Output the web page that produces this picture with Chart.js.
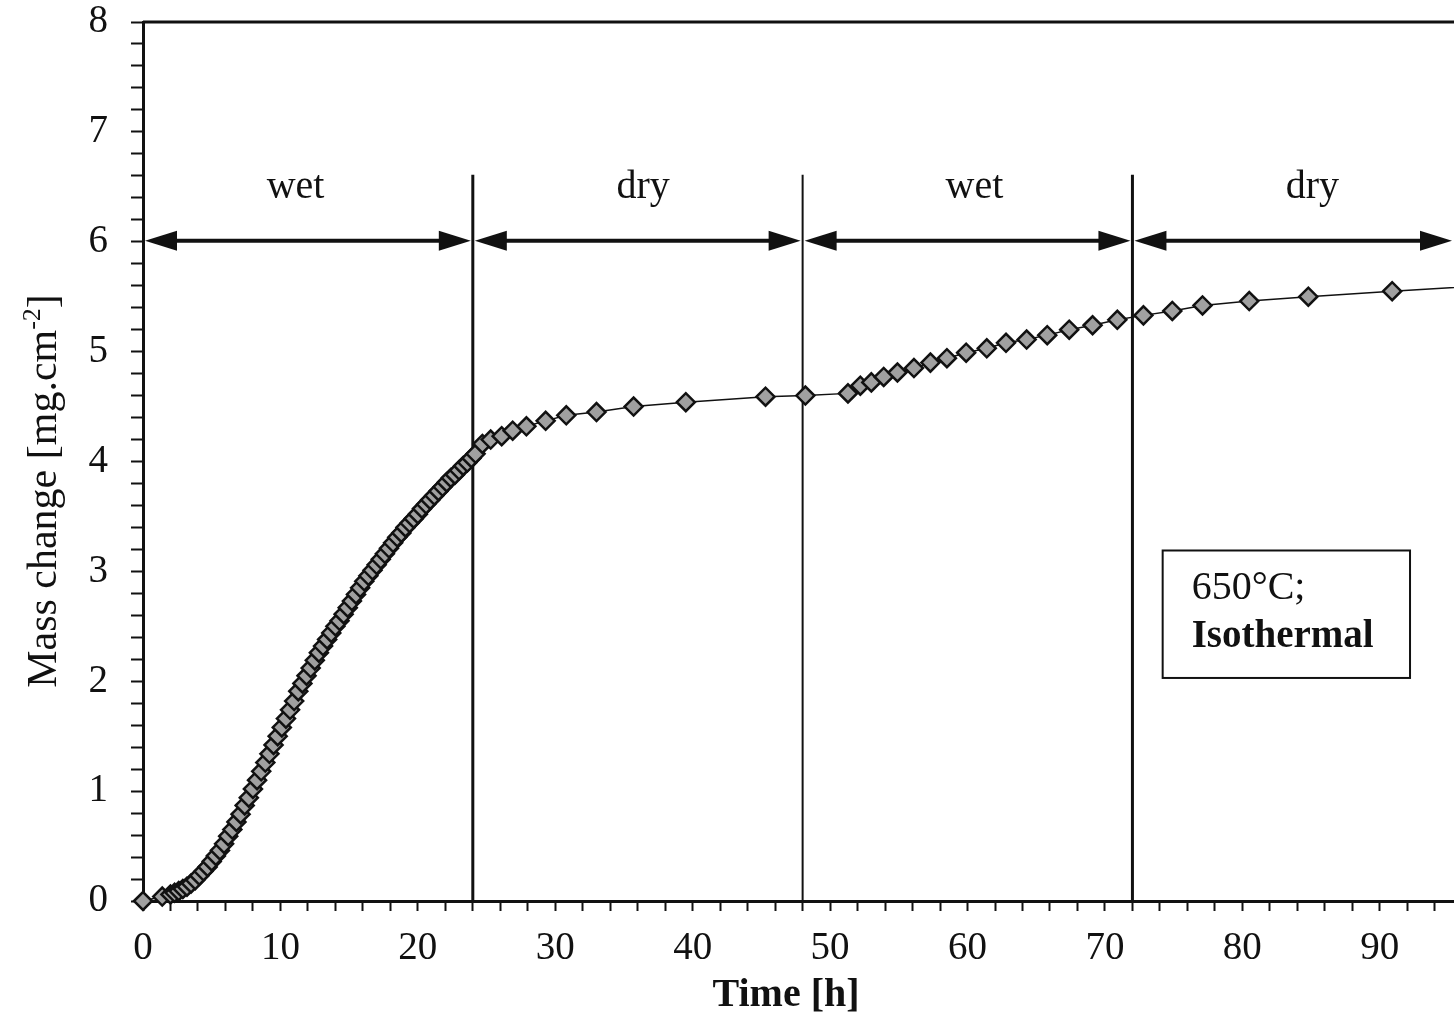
<!DOCTYPE html>
<html>
<head>
<meta charset="utf-8">
<script src="https://cdn.jsdelivr.net/npm/chart.js@4/dist/chart.umd.min.js"></script>
<style>
  html, body { margin: 0; padding: 0; background: #ffffff; }
  #wrap { width: 1454px; height: 1015px; position: relative; }
</style>
</head>
<body>
<div id="wrap"><canvas id="c" width="1454" height="1015"></canvas></div>
<script>
// ---- data ----
const timeH = [
  0, 1.4,
  2.0, 2.3, 2.6, 2.9, 3.2, 3.5, 3.8, 4.1, 4.4, 4.7, 5.0, 5.3, 5.6, 5.9, 6.2, 6.5, 6.8,
  7.1, 7.4, 7.7, 8.0, 8.3, 8.6, 8.9, 9.2, 9.5, 9.8, 10.1, 10.4, 10.7, 11.0, 11.3, 11.6,
  11.9, 12.2, 12.5, 12.8, 13.1, 13.4, 13.7, 14.0, 14.3, 14.6, 14.9, 15.2, 15.5, 15.8,
  16.1, 16.4, 16.7, 17.0, 17.3, 17.6, 17.9, 18.2, 18.5, 18.8, 19.1, 19.4, 19.7, 20.0,
  20.3, 20.6, 20.9, 21.2, 21.5, 21.8, 22.1, 22.4, 22.7, 23.0, 23.3, 23.6, 23.9, 24.2,
  24.7, 25.3, 26.1, 26.9, 27.9, 29.3, 30.8, 33.0, 35.7, 39.5, 45.3, 48.2,
  51.3, 52.2, 53.0, 53.9, 54.9, 56.1, 57.3, 58.5, 59.9, 61.4, 62.8, 64.3, 65.8, 67.4, 69.1, 70.9,
  72.8, 74.9, 77.1, 80.5, 84.8, 90.9, 97.5
];
const massMg = [
  0, 0.04,
  0.06, 0.075, 0.09, 0.11, 0.13, 0.16, 0.19, 0.23, 0.27, 0.31, 0.36, 0.41, 0.46, 0.52, 0.59, 0.65, 0.72,
  0.79, 0.87, 0.94, 1.02, 1.10, 1.18, 1.26, 1.34, 1.42, 1.50, 1.58, 1.66, 1.74, 1.82, 1.91, 1.98,
  2.05, 2.12, 2.19, 2.26, 2.32, 2.38, 2.44, 2.50, 2.55, 2.61, 2.67, 2.73, 2.79, 2.85,
  2.91, 2.96, 3.01, 3.06, 3.11, 3.16, 3.21, 3.26, 3.31, 3.35, 3.40, 3.44, 3.48, 3.52,
  3.57, 3.61, 3.65, 3.69, 3.73, 3.77, 3.81, 3.85, 3.88, 3.92, 3.96, 3.99, 4.03, 4.07,
  4.16, 4.20, 4.23, 4.28, 4.32, 4.37, 4.42, 4.45, 4.50, 4.54, 4.59, 4.60,
  4.62, 4.69, 4.72, 4.77, 4.81, 4.85, 4.90, 4.94, 4.99, 5.03, 5.08, 5.11, 5.15, 5.20, 5.24, 5.29,
  5.33, 5.37, 5.42, 5.46, 5.50, 5.55, 5.60
];
const phaseBounds = [0, 24, 48, 72];
const phaseNames = ['wet', 'dry', 'wet', 'dry'];
const phaseLabelX = [11.1, 36.4, 60.5, 85.1];
const xLabelTicks = [0, 10, 20, 30, 40, 50, 60, 70, 80, 90];
const yLabelTicks = [0, 1, 2, 3, 4, 5, 6, 7, 8];
const boxLines = ['650°C;', 'Isothermal'];

const X_MAX = 95.4;
const SERIF = "'Liberation Serif', 'DejaVu Serif', serif";

const points = timeH.map((t, i) => ({ x: t, y: massMg[i] }));

function isLabelTick(list, v) {
  return list.some(l => Math.abs(l - v) < 1e-6);
}

const annot = {
  id: 'annot',
  beforeDatasetsDraw(chart) {
    const { ctx, scales: { x, y }, chartArea } = chart;
    ctx.save();
    // top border
    ctx.strokeStyle = '#111';
    ctx.lineWidth = 3;
    ctx.beginPath();
    ctx.moveTo(chartArea.left, y.getPixelForValue(8));
    ctx.lineTo(chartArea.right, y.getPixelForValue(8));
    ctx.stroke();
    // phase boundary lines
    const widths = [3, 2, 3];
    phaseBounds.slice(1).forEach((b, i) => {
      const px = x.getPixelForValue(b);
      ctx.lineWidth = widths[i];
      ctx.beginPath();
      ctx.moveTo(px, y.getPixelForValue(6.61));
      ctx.lineTo(px, y.getPixelForValue(0));
      ctx.stroke();
    });
    // arrows
    const ay = y.getPixelForValue(6.01);
    const ends = phaseBounds.concat([X_MAX]);
    const headL = 32, headH = 10;
    ctx.fillStyle = '#111';
    for (let i = 0; i < phaseBounds.length; i++) {
      const x0 = x.getPixelForValue(ends[i]) + 2;
      const x1 = x.getPixelForValue(ends[i + 1]) - 2;
      ctx.lineWidth = 4;
      ctx.beginPath();
      ctx.moveTo(x0 + headL - 4, ay);
      ctx.lineTo(x1 - headL + 4, ay);
      ctx.stroke();
      ctx.beginPath();
      ctx.moveTo(x0, ay);
      ctx.lineTo(x0 + headL, ay - headH);
      ctx.lineTo(x0 + headL, ay + headH);
      ctx.closePath();
      ctx.fill();
      ctx.beginPath();
      ctx.moveTo(x1, ay);
      ctx.lineTo(x1 - headL, ay - headH);
      ctx.lineTo(x1 - headL, ay + headH);
      ctx.closePath();
      ctx.fill();
    }
    // phase labels
    ctx.font = '40px ' + SERIF;
    ctx.textAlign = 'center';
    ctx.textBaseline = 'alphabetic';
    phaseNames.forEach((n, i) => {
      ctx.fillText(n, x.getPixelForValue(phaseLabelX[i]), y.getPixelForValue(6.4));
    });
    // annotation box
    const bx0 = x.getPixelForValue(74.2), bx1 = x.getPixelForValue(92.2);
    const by0 = y.getPixelForValue(3.19), by1 = y.getPixelForValue(2.03);
    ctx.fillStyle = '#fff';
    ctx.fillRect(bx0, by0, bx1 - bx0, by1 - by0);
    ctx.strokeStyle = '#111';
    ctx.lineWidth = 2;
    ctx.strokeRect(bx0, by0, bx1 - bx0, by1 - by0);
    ctx.fillStyle = '#111';
    ctx.textAlign = 'left';
    ctx.font = '40px ' + SERIF;
    ctx.fillText(boxLines[0], bx0 + 29, by0 + 49);
    ctx.font = 'bold 39px ' + SERIF;
    ctx.fillText(boxLines[1], bx0 + 29, by0 + 97);
    ctx.restore();
  },
  afterDraw(chart) {
    const { ctx } = chart;
    ctx.save();
    ctx.fillStyle = '#111';
    // x title
    ctx.font = 'bold 40px ' + SERIF;
    ctx.textAlign = 'center';
    ctx.textBaseline = 'alphabetic';
    ctx.fillText('Time [h]', 786, 1006);
    // y title with superscript
    ctx.translate(56, 491);
    ctx.rotate(-Math.PI / 2);
    const main = 'Mass change [mg.cm', sup = '-2', close = ']';
    ctx.font = '42px ' + SERIF;
    const wMain = ctx.measureText(main).width;
    const wClose = ctx.measureText(close).width;
    ctx.font = '26px ' + SERIF;
    const wSup = ctx.measureText(sup).width;
    let sx = -(wMain + wSup + wClose) / 2;
    ctx.textAlign = 'left';
    ctx.font = '42px ' + SERIF;
    ctx.fillText(main, sx, 0);
    sx += wMain;
    ctx.font = '26px ' + SERIF;
    ctx.fillText(sup, sx, -16);
    sx += wSup;
    ctx.font = '42px ' + SERIF;
    ctx.fillText(close, sx, 0);
    ctx.restore();
  }
};

new Chart(document.getElementById('c'), {
  type: 'scatter',
  data: {
    datasets: [{
      data: points,
      showLine: true,
      clip: false,
      borderColor: '#111',
      borderWidth: 1.5,
      pointStyle: 'rectRot',
      pointRadius: 9,
      pointBorderWidth: 2.5,
      pointBackgroundColor: '#a0a0a0',
      pointBorderColor: '#111',
      tension: 0
    }]
  },
  options: {
    responsive: false,
    animation: false,
    events: [],
    layout: { autoPadding: false, padding: { top: 22, left: 0, right: 0, bottom: 0 } },
    plugins: { legend: { display: false }, tooltip: { enabled: false } },
    scales: {
      x: {
        type: 'linear',
        min: 0,
        max: X_MAX,
        afterFit(s) { s.height = 114; s.paddingLeft = 0; s.paddingRight = 0; },
        border: { display: true, color: '#111', width: 3 },
        grid: { drawOnChartArea: false, drawTicks: true, tickLength: 10, tickColor: '#111', tickWidth: 2 },
        ticks: {
          stepSize: 2,
          includeBounds: false,
          autoSkip: false,
          maxRotation: 0,
          padding: 14,
          color: '#111',
          font: { family: SERIF, size: 39 },
          callback: (v) => isLabelTick(xLabelTicks, v) ? String(Math.round(v)) : ''
        },
        title: { display: false }
      },
      y: {
        type: 'linear',
        min: 0,
        max: 8,
        afterFit(s) { s.width = 143; s.paddingTop = 0; s.paddingBottom = 0; },
        border: { display: true, color: '#111', width: 3 },
        grid: { drawOnChartArea: false, drawTicks: true, tickLength: 12, tickColor: '#111', tickWidth: 2 },
        ticks: {
          stepSize: 0.2,
          autoSkip: false,
          padding: 23,
          color: '#111',
          font: { family: SERIF, size: 39, lineHeight: 1.0 },
          callback: (v) => isLabelTick(yLabelTicks, v) ? String(Math.round(v)) : ''
        },
        title: { display: false }
      }
    }
  },
  plugins: [annot]
});
</script>
</body>
</html>
